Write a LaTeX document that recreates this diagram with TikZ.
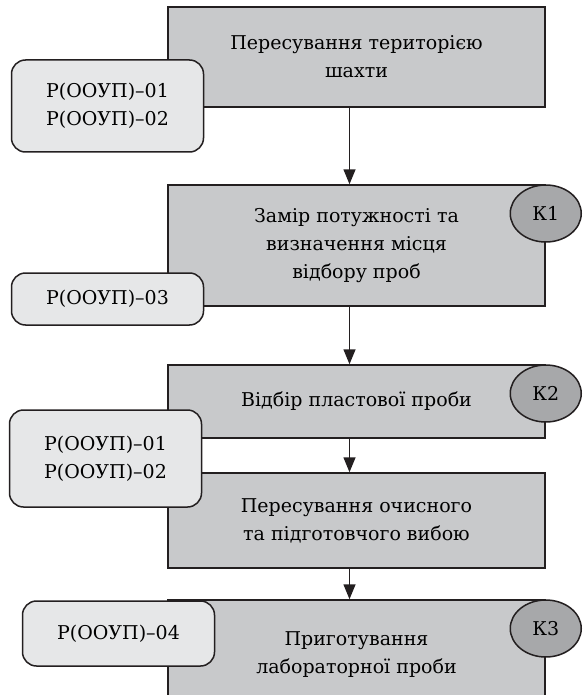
\documentclass[tikz,border=0pt]{standalone}
\usepackage{fontspec}
\setmainfont{DejaVu Serif}
\usepackage{xcolor}
\usepackage{tikz}
\usetikzlibrary{arrows.meta,positioning,shapes.geometric}

\definecolor{linec}{HTML}{231F20}
\definecolor{procfill}{HTML}{C8C9CB}
\definecolor{reffill}{HTML}{E6E7E8}
\definecolor{kfill}{HTML}{A7A8AA}

\begin{document}
\begin{tikzpicture}[
  x=1pt, y=-1pt,
  txt/.style={font=\fontsize{19}{28}\selectfont, align=center},
  procbox/.style={txt, draw=linec, line width=1.5pt, fill=procfill, minimum width=377pt, inner sep=0pt},
  refbox/.style={txt, draw=linec, line width=1.5pt, fill=reffill, rounded corners=14pt, minimum width=192pt, inner sep=0pt},
  kmark/.style={txt, ellipse, draw=linec, line width=1.5pt, fill=kfill, minimum width=71pt, minimum height=57pt, inner sep=0pt, anchor=north},
  arr/.style={-{Triangle[length=15pt, width=12pt]}, line width=1.5pt, draw=linec},
]
\useasboundingbox (0,0) rectangle (582,695);
\clip (0,0) rectangle (582,695);

% ===== process steps =====
\node[procbox, minimum height=100pt] (p1) at (356.5,57) {Пересування територією\\шахти};
\node[procbox, minimum height=121pt] (p2) at (356.5,245.5) {Замір потужності та\\визначення місця\\відбору проб};
\node[procbox, minimum height=73pt] (p3) at (356.5,401.5) {Відбір пластової проби};
\node[procbox, minimum height=95pt] (p4) at (356.5,520.5) {Пересування очисного\\та підготовчого вибою};
\node[procbox, minimum height=110pt] (p5) at (356.5,655) {Приготування\\лабораторної проби};

% ===== control points =====
\node[kmark] (k1) at (p2.north east) {К1};
\node[kmark] (k2) at (p3.north east) {К2};
\node[kmark] (k3) at (p5.north east) {К3};

\draw[arr] ([xshift=-7pt]p1.south) -- ([xshift=-7pt]p2.north);
\draw[arr] ([xshift=-7pt]p2.south) -- ([xshift=-7pt]p3.north);
\draw[arr] ([xshift=-7pt]p3.south) -- ([xshift=-7pt]p4.north);
\draw[arr] ([xshift=-7pt]p4.south) -- ([xshift=-7pt]p5.north);

% ===== documents =====
\node[refbox, minimum height=92pt] (r1) at (107.5,106) {Р(ООУП)–01\\Р(ООУП)–02};
\node[refbox, minimum height=52pt] (r2) at (107.5,299) {Р(ООУП)–03};
\node[refbox, minimum height=97pt] (r3) at (105.5,458.5) {Р(ООУП)–01\\Р(ООУП)–02};
\node[refbox, minimum height=65pt] (r4) at (118.5,633.5) {Р(ООУП)–04};

\end{tikzpicture}
\end{document}
